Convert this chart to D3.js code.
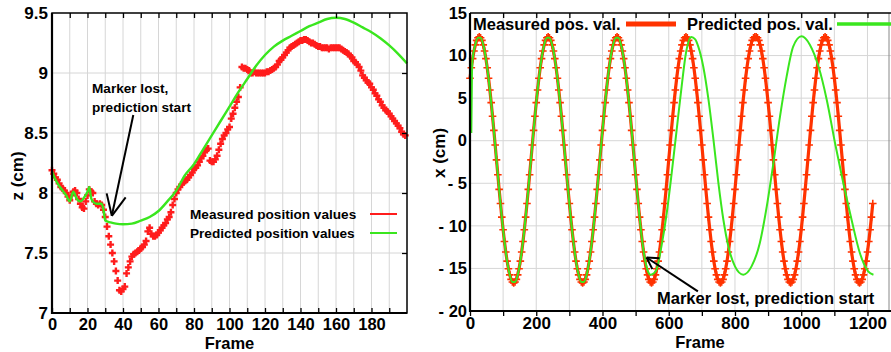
<!DOCTYPE html>
<html>
<head>
<meta charset="utf-8">
<script src="https://cdn.jsdelivr.net/npm/d3@7"></script>
<style>
  body { margin: 0; background: #fff; }
  svg { display: block; }
</style>
</head>
<body>
<svg id="chart" width="891" height="352"></svg>
<script>
// ---- left panel: z position, one measured value per frame (0..199)
const zMeasured = [
  8.19, 8.16, 8.13, 8.11, 8.08, 8.05, 8.04, 8.02, 8.00, 7.97,
  7.94, 7.98, 8.01, 8.02, 8.00, 7.95, 7.91, 7.88, 7.87, 7.93,
  7.98, 8.03, 8.01, 8.00, 7.93, 7.91, 7.90, 7.91, 7.90, 7.86,
  7.80, 7.72, 7.64, 7.57, 7.50, 7.43, 7.35, 7.27, 7.19, 7.18,
  7.20, 7.22, 7.33, 7.38, 7.43, 7.47, 7.49, 7.50, 7.51, 7.52,
  7.54, 7.55, 7.57, 7.60, 7.68, 7.71, 7.66, 7.64, 7.64, 7.65,
  7.67, 7.69, 7.71, 7.73, 7.75, 7.78, 7.80, 7.84, 7.90, 7.95,
  8.00, 8.03, 8.05, 8.07, 8.09, 8.10, 8.11, 8.13, 8.15, 8.17,
  8.20, 8.21, 8.23, 8.26, 8.29, 8.31, 8.34, 8.36, 8.37, 8.27,
  8.26, 8.26, 8.28, 8.31, 8.36, 8.41, 8.45, 8.48, 8.50, 8.53,
  8.55, 8.62, 8.66, 8.71, 8.76, 8.80, 8.88, 9.05, 9.04, 9.04,
  9.03, 9.02, 9.00, 9.00, 9.01, 9.00, 9.00, 9.00, 9.00, 9.00,
  9.00, 9.01, 9.01, 9.02, 9.03, 9.04, 9.05, 9.07, 9.10, 9.11,
  9.13, 9.15, 9.17, 9.19, 9.21, 9.22, 9.23, 9.24, 9.25, 9.26,
  9.27, 9.27, 9.28, 9.28, 9.27, 9.26, 9.25, 9.25, 9.24, 9.23,
  9.22, 9.22, 9.21, 9.21, 9.21, 9.21, 9.20, 9.21, 9.21, 9.21,
  9.21, 9.21, 9.21, 9.20, 9.19, 9.18, 9.17, 9.16, 9.14, 9.13,
  9.10, 9.09, 9.07, 9.05, 9.02, 8.98, 8.96, 8.94, 8.92, 8.91,
  8.88, 8.86, 8.83, 8.81, 8.78, 8.76, 8.73, 8.71, 8.69, 8.68,
  8.66, 8.64, 8.62, 8.60, 8.58, 8.56, 8.54, 8.51, 8.49, 8.48
];
const zPredFrames = [0, 2, 4, 6, 8, 10, 12, 14, 16, 18, 20, 21, 22, 23, 25, 28, 29, 30, 33, 36,
  40, 45, 50, 55, 60, 65, 70, 75, 80, 85, 90, 95, 100, 105, 110, 115, 120, 125, 130, 135,
  140, 145, 150, 155, 160, 165, 170, 175, 180, 185, 190, 195, 200];
const zPredValues = [8.18, 8.11, 8.06, 8.02, 7.98, 7.93, 8.01, 7.95, 7.93, 7.96, 8.01, 8.05, 7.96, 7.93, 7.91, 7.91, 7.86, 7.77, 7.755, 7.745,
  7.74, 7.745, 7.77, 7.80, 7.85, 7.93, 8.02, 8.15, 8.24, 8.36, 8.48, 8.60, 8.72, 8.84, 8.95, 9.06, 9.15, 9.22, 9.27, 9.31,
  9.35, 9.39, 9.42, 9.45, 9.46, 9.45, 9.42, 9.38, 9.34, 9.29, 9.23, 9.16, 9.08];
const zTicks = [7, 7.5, 8, 8.5, 9, 9.5];
const zFrameLabels = [0, 20, 40, 60, 80, 100, 120, 140, 160, 180];

// ---- right panel: x position, measured value every 4 frames (0..1216)
const xStep = 4;
const xMeasured = [
  7.33, 8.57, 9.64, 10.54, 11.26, 11.78, 12.09, 12.20,
  12.09, 11.78, 11.26, 10.54, 9.64, 8.57, 7.33, 5.96, 4.47, 2.87, 1.21, -0.51, -2.25, -3.99, -5.71, -7.37, -8.97, -10.46, -11.83, -13.07, -14.14, -15.04, -15.76, -16.28, -16.59, -16.70,
  -16.59, -16.28, -15.76, -15.04, -14.14, -13.07, -11.83, -10.46, -8.97, -7.37, -5.71, -3.99, -2.25, -0.51, 1.21, 2.87, 4.47, 5.96, 7.33, 8.57, 9.64, 10.54, 11.26, 11.78, 12.09, 12.20,
  12.09, 11.78, 11.26, 10.54, 9.64, 8.57, 7.33, 5.96, 4.47, 2.87, 1.21, -0.51, -2.25, -3.99, -5.71, -7.37, -8.97, -10.46, -11.83, -13.07, -14.14, -15.04, -15.76, -16.28, -16.59, -16.70,
  -16.59, -16.28, -15.76, -15.04, -14.14, -13.07, -11.83, -10.46, -8.97, -7.37, -5.71, -3.99, -2.25, -0.51, 1.21, 2.87, 4.47, 5.96, 7.33, 8.57, 9.64, 10.54, 11.26, 11.78, 12.09, 12.20,
  12.09, 11.78, 11.26, 10.54, 9.64, 8.57, 7.33, 5.96, 4.47, 2.87, 1.21, -0.51, -2.25, -3.99, -5.71, -7.37, -8.97, -10.46, -11.83, -13.07, -14.14, -15.04, -15.76, -16.28, -16.59, -16.70,
  -16.59, -16.28, -15.76, -15.04, -14.14, -13.07, -11.83, -10.46, -8.97, -7.37, -5.71, -3.99, -2.25, -0.51, 1.21, 2.87, 4.47, 5.96, 7.33, 8.57, 9.64, 10.54, 11.26, 11.78, 12.09, 12.20,
  12.09, 11.78, 11.26, 10.54, 9.64, 8.57, 7.33, 5.96, 4.47, 2.87, 1.21, -0.51, -2.25, -3.99, -5.71, -7.37, -8.97, -10.46, -11.83, -13.07, -14.14, -15.04, -15.76, -16.28, -16.59, -16.70,
  -16.59, -16.28, -15.76, -15.04, -14.14, -13.07, -11.83, -10.46, -8.97, -7.37, -5.71, -3.99, -2.25, -0.51, 1.21, 2.87, 4.47, 5.96, 7.33, 8.57, 9.64, 10.54, 11.26, 11.78, 12.09, 12.20,
  12.20,
  12.09, 11.78, 11.26, 10.54, 9.64, 8.57, 7.33, 5.96, 4.47, 2.87, 1.21, -0.51, -2.25, -3.99, -5.71, -7.37, -8.97, -10.46, -11.83, -13.07, -14.14, -15.04, -15.76, -16.28, -16.59, -16.70,
  -16.59, -16.28, -15.76, -15.04, -14.14, -13.07, -11.83, -10.46, -8.97, -7.37, -5.71, -3.99, -2.25, -0.51, 1.21, 2.87, 4.47, 5.96, 7.33, 8.57, 9.64, 10.54, 11.26, 11.78, 12.09, 12.20,
  12.09, 11.78, 11.26, 10.54, 9.64, 8.57, 7.33, 5.96, 4.47, 2.87, 1.21, -0.51, -2.25, -3.99, -5.71, -7.37, -8.97, -10.46, -11.83, -13.07, -14.14, -15.04, -15.76, -16.28, -16.59, -16.70,
  -16.59, -16.28, -15.76, -15.04, -14.14, -13.07, -11.83, -10.46, -8.97, -7.37
];
const xPredFrames = [4, 6, 8, 16, 24, 32, 40, 48, 56, 64, 72, 80, 88, 96, 104, 112, 120, 128, 136, 144,
  152, 160, 168, 176, 184, 192, 200, 208, 216, 224, 232, 240, 248, 256, 264, 272, 280, 288, 296, 304,
  312, 320, 328, 336, 344, 352, 360, 368, 376, 384, 392, 400, 408, 416, 424, 432, 440, 448, 456, 464,
  472, 480, 488, 496, 504, 512, 520, 528, 536, 545, 554, 563, 578, 594, 609, 624, 639, 652, 668, 680,
  689, 704, 720, 735, 750, 765, 780, 800, 825, 850, 875, 896, 916, 936, 956, 976, 1001, 1026, 1052, 1077,
  1102, 1127, 1152, 1177, 1202, 1218];
const xPredValues = [0.9, 8.0, 9.64, 11.26, 12.09, 12.09, 11.26, 9.64, 7.33, 4.47, 1.21, -2.25, -5.71, -8.97, -11.83, -14.14, -15.76, -16.59, -16.59, -15.76,
  -14.14, -11.83, -8.97, -5.71, -2.25, 1.21, 4.47, 7.33, 9.64, 11.26, 12.09, 12.09, 11.26, 9.64, 7.33, 4.47, 1.21, -2.25, -5.71, -8.97,
  -11.83, -14.14, -15.76, -16.59, -16.59, -15.76, -14.14, -11.83, -8.97, -5.71, -2.25, 1.21, 4.47, 7.33, 9.64, 11.26, 12.09, 12.09, 11.26, 9.64,
  7.33, 4.47, 1.21, -2.25, -5.71, -8.97, -11.83, -13.9, -15.2, -15.74, -15.6, -15.15, -12.41, -8.49, -3.79, 1.3, 6.39, 10.3, 12.18, 11.9,
  11.08, 8.74, 4.82, 0.12, -4.97, -9.28, -12.41, -14.76, -15.74, -14.76, -12.02, -7.71, -2.62, 2.86, 7.56, 11.08, 12.26, 11.28, 8.74, 4.82,
  -0.27, -4.97, -9.28, -13.19, -15.34, -15.74];
const xTicks = [-20, -15, -10, -5, 0, 5, 10, 15];
const xFrameLabels = [0, 200, 400, 600, 800, 1000, 1200];

const FONT = "'Liberation Sans', Arial, sans-serif";
const RED_L = "#ff1c1c", RED_R = "#ff3300", GREEN = "#3ae61e", GRID = "#d6d6d6";

const svg = d3.select("#chart")
  .attr("font-family", FONT)
  .attr("font-weight", "bold");
svg.append("rect").attr("width", 891).attr("height", 352).attr("fill", "#fff");

const plus = s => `M${-s},0H${s}M0,${-s}V${s}`;

function arrow(g, x0, y0, x1, y1, len, ang) {
  g.append("line").attr("x1", x0).attr("y1", y0).attr("x2", x1).attr("y2", y1)
    .attr("stroke", "#000").attr("stroke-width", 2);
  const a = Math.atan2(y0 - y1, x0 - x1);
  [ang, -ang].forEach(d => {
    const t = a + d * Math.PI / 180;
    g.append("line").attr("x1", x1).attr("y1", y1)
      .attr("x2", x1 + len * Math.cos(t)).attr("y2", y1 + len * Math.sin(t))
      .attr("stroke", "#000").attr("stroke-width", 2);
  });
}

function styleAxis(g, size) {
  g.attr("font-family", FONT).attr("font-size", size).attr("font-weight", "bold");
  g.select(".domain").remove();
  g.selectAll("text").attr("fill", "#000");
  g.selectAll("line").attr("stroke", "#000").attr("stroke-width", 1.3);
}

// ================= left panel =================
const left = { l: 52, r: 407, t: 13, b: 313 };
const x1 = d3.scaleLinear().domain([0, 200]).range([left.l, left.r]);
const y1 = d3.scaleLinear().domain([7, 9.5]).range([left.b, left.t]);
const gL = svg.append("g");

gL.append("g").selectAll("line").data(d3.range(10, 200, 10)).join("line")
  .attr("x1", d => x1(d)).attr("x2", d => x1(d)).attr("y1", left.t).attr("y2", left.b)
  .attr("stroke", GRID).attr("stroke-width", 1);
gL.append("g").selectAll("line").data(zTicks.slice(1, -1)).join("line")
  .attr("x1", left.l).attr("x2", left.r).attr("y1", d => y1(d)).attr("y2", d => y1(d))
  .attr("stroke", GRID).attr("stroke-width", 1);

gL.append("g").selectAll("path").data(zMeasured).join("path")
  .attr("transform", (d, i) => `translate(${x1(i)},${y1(d)})`)
  .attr("d", plus(3.5)).attr("stroke", RED_L).attr("stroke-width", 2.4).attr("fill", "none");

gL.append("path")
  .datum(zPredFrames.map((f, i) => [f, zPredValues[i]]))
  .attr("fill", "none").attr("stroke", GREEN).attr("stroke-width", 2.4)
  .attr("d", d3.line().x(d => x1(d[0])).y(d => y1(d[1])).curve(d3.curveMonotoneX));

gL.append("rect").attr("x", left.l).attr("y", left.t)
  .attr("width", left.r - left.l).attr("height", left.b - left.t)
  .attr("fill", "none").attr("stroke", "#000").attr("stroke-width", 1.5);
gL.append("path").attr("d", `M${left.l},${left.t}V${left.b}H${left.r}`)
  .attr("fill", "none").attr("stroke", "#000").attr("stroke-width", 2.2);

gL.append("g").attr("transform", `translate(0,${left.b})`)
  .call(d3.axisBottom(x1).tickValues(d3.range(0, 200, 10)).tickSize(-5).tickPadding(5)
    .tickFormat(d => zFrameLabels.includes(d) ? d : ""))
  .call(g => styleAxis(g, 16.5));
gL.append("g").attr("transform", `translate(0,${left.t})`)
  .call(d3.axisTop(x1).tickValues(d3.range(10, 200, 10)).tickSize(-5).tickFormat(""))
  .call(g => styleAxis(g, 17));
gL.append("g").attr("transform", `translate(${left.l},0)`)
  .call(d3.axisLeft(y1).tickValues(zTicks).tickSize(0).tickPadding(4).tickFormat(d => String(d)))
  .call(g => styleAxis(g, 17));
gL.append("g").attr("transform", `translate(${left.r},0)`)
  .call(d3.axisRight(y1).tickValues(zTicks.slice(1, -1)).tickSize(-5).tickFormat(""))
  .call(g => styleAxis(g, 17));

gL.append("text").attr("x", (left.l + left.r) / 2).attr("y", 348.5)
  .attr("text-anchor", "middle").attr("font-size", 16.5).text("Frame");
gL.append("text").attr("transform", "translate(23,176) rotate(-90)")
  .attr("text-anchor", "middle").attr("font-size", 17).text("z (cm)");

// legend
gL.append("text").attr("x", 190).attr("y", 219).attr("font-size", 13.6).text("Measured position values");
gL.append("text").attr("x", 190).attr("y", 238).attr("font-size", 13.6).text("Predicted position values");
gL.append("line").attr("x1", 370).attr("x2", 397).attr("y1", 214).attr("y2", 214)
  .attr("stroke", RED_L).attr("stroke-width", 2);
gL.append("line").attr("x1", 370).attr("x2", 397).attr("y1", 233).attr("y2", 233)
  .attr("stroke", GREEN).attr("stroke-width", 2);

// annotation
gL.append("text").attr("x", 92).attr("y", 93).attr("font-size", 13.6).text("Marker lost,");
gL.append("text").attr("x", 92).attr("y", 112).attr("font-size", 13.6).text("prediction start");
arrow(gL, x1(45.8), y1(8.65), x1(33.7), y1(7.81), 23, 25);

// ================= right panel =================
const right = { l: 470, r: 889, t: 13, b: 311 };
const x2 = d3.scaleLinear().domain([0, 1265]).range([right.l, right.r]);
const y2 = d3.scaleLinear().domain([-20, 15]).range([right.b, right.t]);
const gR = svg.append("g");

gR.append("g").selectAll("line").data(d3.range(100, 1265, 100)).join("line")
  .attr("x1", d => x2(d)).attr("x2", d => x2(d)).attr("y1", right.t).attr("y2", right.b)
  .attr("stroke", GRID).attr("stroke-width", 1);
gR.append("g").selectAll("line").data(xTicks.slice(1, -1)).join("line")
  .attr("x1", right.l).attr("x2", 891).attr("y1", d => y2(d)).attr("y2", d => y2(d))
  .attr("stroke", GRID).attr("stroke-width", 1);

gR.append("path").datum(xMeasured)
  .attr("fill", "none").attr("stroke", RED_R).attr("stroke-width", 3.2)
  .attr("d", d3.line().x((d, i) => x2(i * xStep)).y(d => y2(d)));
gR.append("g").selectAll("path").data(xMeasured).join("path")
  .attr("transform", (d, i) => `translate(${x2(i * xStep)},${y2(d)})`)
  .attr("d", plus(3.8)).attr("stroke", RED_R).attr("stroke-width", 1.6).attr("fill", "none");

gR.append("path")
  .datum(xPredFrames.map((f, i) => [f, xPredValues[i]]))
  .attr("fill", "none").attr("stroke", GREEN).attr("stroke-width", 2)
  .attr("d", d3.line().x(d => x2(d[0])).y(d => y2(d[1])).curve(d3.curveMonotoneX));

gR.append("line").attr("x1", right.r).attr("x2", right.r).attr("y1", right.t).attr("y2", right.b)
  .attr("stroke", "#888").attr("stroke-width", 1);
gR.append("line").attr("x1", right.l).attr("x2", 891).attr("y1", right.t).attr("y2", right.t)
  .attr("stroke", "#000").attr("stroke-width", 1.5);
gR.append("path").attr("d", `M${right.l},${right.t}V${right.b}H891`)
  .attr("fill", "none").attr("stroke", "#000").attr("stroke-width", 2.2);

gR.append("g").attr("transform", `translate(0,${right.b})`)
  .call(d3.axisBottom(x2).tickValues(d3.range(0, 1265, 100)).tickSize(5).tickPadding(1)
    .tickFormat(d => xFrameLabels.includes(d) ? d : ""))
  .call(g => styleAxis(g, 17));
gR.append("g").attr("transform", `translate(0,${right.t})`)
  .call(d3.axisTop(x2).tickValues(d3.range(100, 1265, 100)).tickSize(-5).tickFormat(""))
  .call(g => styleAxis(g, 17));
gR.append("g").attr("transform", `translate(${right.l},0)`)
  .call(d3.axisLeft(y2).tickValues(xTicks).tickSize(0).tickPadding(3)
    .tickFormat(d => d < 0 ? "- " + Math.abs(d) : String(d)))
  .call(g => styleAxis(g, 16.5));

gR.append("text").attr("x", 700).attr("y", 347.5)
  .attr("text-anchor", "middle").attr("font-size", 16.5).text("Frame");
gR.append("text").attr("transform", "translate(445,153) rotate(-90)")
  .attr("text-anchor", "middle").attr("font-size", 17).text("x (cm)");

// legend (top row, inside plot)
gR.append("text").attr("x", 473).attr("y", 30).attr("font-size", 16.5).text("Measured pos. val.");
gR.append("line").attr("x1", 626).attr("x2", 676).attr("y1", 24).attr("y2", 24)
  .attr("stroke", RED_R).attr("stroke-width", 5);
gR.append("text").attr("x", 687).attr("y", 30).attr("font-size", 16.5).text("Predicted pos. val.");
gR.append("line").attr("x1", 837).attr("x2", 891).attr("y1", 24).attr("y2", 24)
  .attr("stroke", GREEN).attr("stroke-width", 3.5);

// annotation
gR.append("text").attr("x", 657).attr("y", 304).attr("font-size", 16.5).text("Marker lost, prediction start");
arrow(gR, x2(688), y2(-17.7), x2(533), y2(-13.72), 13, 30);
</script>
</body>
</html>
